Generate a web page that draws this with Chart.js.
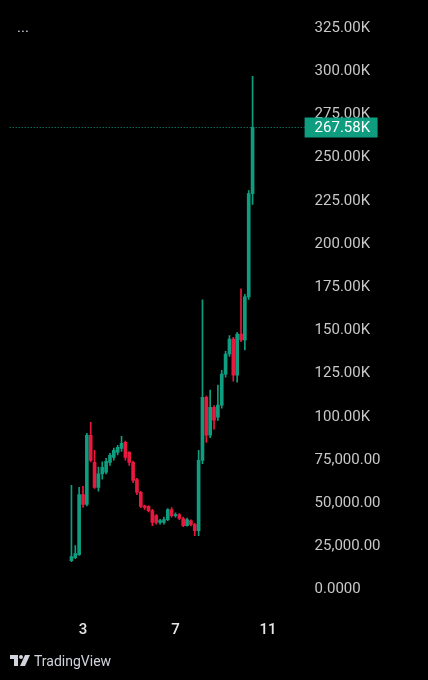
<!DOCTYPE html>
<html>
<head>
<meta charset="utf-8">
<script src="https://cdn.jsdelivr.net/npm/chart.js@4.4.1/dist/chart.umd.min.js"></script>
<style>
  html, body { margin: 0; padding: 0; background: #000; }
  #wrap { position: relative; width: 428px; height: 680px; overflow: hidden; }
  #dots { position: absolute; left: 17px; top: 18px; color: #d1d4dc; font: 15px Roboto, sans-serif; }
  #brand { position: absolute; left: 10px; top: 653px; display: flex; align-items: center; color: #d1d4dc; font: 14px Roboto, sans-serif; }
  #brand svg { margin-right: 4px; }
</style>
</head>
<body>
<div id="wrap">
  <canvas id="candleChart" width="428" height="680"></canvas>
  <div id="dots">...</div>
  <div id="brand">
    <svg width="20" height="12" viewBox="0 0 20 12">
      <path d="M0 0h8v11h-4v-7h-4z" fill="#d1d4dc"/>
      <circle cx="11" cy="2" r="2" fill="#d1d4dc"/>
      <path d="M15 0h5l-5 11h-5z" fill="#d1d4dc"/>
    </svg>
    <span>TradingView</span>
  </div>
</div>
<script>
// 4h candles, values in thousands
const opens  = [16.8, 18.6, 20.3, 55.1, 49.3, 89.4, 73.7, 59.2, 67.0, 68.0, 73.7, 76.6,
                79.5, 81.8, 85.3, 79.5, 73.7, 63.8, 56.3, 48.5, 48.2, 45.8, 42.9, 38.9,
                38.9, 40.6, 46.4, 42.9, 43.5, 41.2, 37.1, 40.0, 37.7, 34.2, 74.9, 111.4,
                89.4, 105.6, 99.8, 106.8, 124.8, 136.4, 145.1, 124.2, 148.0, 144.5, 169.5, 229.2];
const highs  = [60.4, 25.5, 59.2, 59.8, 90.5, 96.9, 80.7, 71.0, 74.0, 76.0, 79.0, 82.0,
                83.5, 88.8, 86.0, 80.0, 74.5, 64.5, 57.0, 49.0, 48.5, 46.5, 43.5, 40.8,
                42.0, 47.0, 47.5, 44.5, 44.0, 42.0, 41.5, 40.5, 38.5, 80.7, 167.7, 112.0,
                115.5, 106.5, 118.4, 127.0, 138.0, 147.0, 146.0, 149.0, 174.1, 171.0, 231.0, 297.1];
const lows   = [16.2, 18.0, 19.8, 47.6, 48.5, 74.0, 58.6, 57.0, 64.0, 67.0, 72.0, 75.0,
                78.0, 80.0, 75.0, 72.0, 62.0, 55.0, 47.5, 46.5, 45.0, 37.1, 38.0, 38.0,
                38.0, 40.0, 42.0, 42.0, 40.5, 36.5, 36.8, 37.0, 31.3, 31.3, 73.0, 85.3,
                88.0, 92.9, 98.0, 105.0, 123.0, 135.0, 120.7, 120.1, 143.5, 138.7, 168.0, 222.9];
const closes = [19.2, 20.9, 55.1, 49.3, 89.4, 74.9, 59.2, 67.0, 70.8, 74.3, 77.8, 80.7,
                82.4, 84.7, 76.6, 73.7, 63.3, 56.3, 48.2, 47.6, 45.8, 38.9, 38.9, 40.0,
                40.6, 46.4, 42.9, 43.5, 41.2, 37.1, 40.6, 37.7, 34.2, 74.9, 111.4, 89.4,
                105.6, 98.1, 106.8, 124.8, 136.4, 145.1, 124.2, 148.0, 144.5, 169.5, 229.2, 267.58];

const firstCandle = '2 12:00';
const days = 13;
const hours = ['00:00', '04:00', '08:00', '12:00', '16:00', '20:00'];
const slotCount = 76;

const xTickLabels = ['3', '7', '11'];
const yTicks = [0, 25, 50, 75, 100, 125, 150, 175, 200, 225, 250, 275, 300, 325];
const yTickLabels = ['0.0000', '25,000.00', '50,000.00', '75,000.00', '100.00K', '125.00K',
                     '150.00K', '175.00K', '200.00K', '225.00K', '250.00K', '275.00K',
                     '300.00K', '325.00K'];
const lastPrice = 267.58;
const lastPriceLabel = '267.58K';

const upColor = '#0f9d80';
const downColor = '#e8193f';

// all time slots on the axis
const slots = [];
for (let d = 0; d < days; d++) {
  for (const h of hours) slots.push(d + ' ' + h);
}
const categories = slots.slice(0, slotCount);
const start = categories.indexOf(firstCandle);
const candleTimes = categories.slice(start, start + opens.length);
const colors = opens.map((o, i) => closes[i] >= o ? upColor : downColor);

const priceLine = {
  id: 'priceLine',
  afterDraw(chart) {
    const { ctx, chartArea, scales } = chart;
    const y = Math.round(scales.y.getPixelForValue(lastPrice)) + 0.5;
    ctx.save();
    ctx.strokeStyle = upColor;
    ctx.lineWidth = 1;
    ctx.setLineDash([1, 2]);
    ctx.beginPath();
    ctx.moveTo(chartArea.left - 2, y);
    ctx.lineTo(chartArea.right, y);
    ctx.stroke();
    ctx.setLineDash([]);
    ctx.fillStyle = upColor;
    ctx.fillRect(chartArea.right, y - 10, 73, 20);
    ctx.fillStyle = '#ffffff';
    ctx.font = '15px Roboto, sans-serif';
    ctx.textBaseline = 'middle';
    ctx.fillText(lastPriceLabel, chartArea.right + 10, y + 1);
    ctx.restore();
  }
};

new Chart(document.getElementById('candleChart'), {
  type: 'bar',
  data: {
    labels: categories,
    datasets: [
      {
        label: 'wick',
        data: candleTimes.map((t, i) => ({ x: t, y: [lows[i], highs[i]] })),
        backgroundColor: colors,
        barThickness: 1,
        grouped: false,
        order: 2
      },
      {
        label: 'body',
        data: candleTimes.map((t, i) => ({ x: t, y: [opens[i], closes[i]] })),
        backgroundColor: colors,
        barThickness: 3,
        minBarLength: 1,
        grouped: false,
        order: 1
      }
    ]
  },
  options: {
    responsive: false,
    animation: false,
    layout: { padding: { left: 11.7, right: 0, top: 0, bottom: 0 } },
    plugins: { legend: { display: false }, tooltip: { enabled: false } },
    scales: {
      x: {
        type: 'category',
        offset: true,
        grid: { display: false, drawTicks: false },
        border: { display: false },
        afterBuildTicks(scale) {
          scale.ticks = xTickLabels.map(d => ({ value: categories.indexOf(d + ' 00:00') }));
        },
        afterFit(scale) { scale.height = 70; },
        ticks: {
          autoSkip: false,
          maxRotation: 0,
          padding: 11,
          color: '#e6e6e6',
          font: { family: 'Roboto', size: 15, weight: '500' },
          callback: (v) => categories[v].split(' ')[0]
        }
      },
      y: {
        position: 'right',
        min: -11.72,
        max: 330.25,
        grid: { display: false, drawTicks: false },
        border: { display: false },
        afterBuildTicks(scale) {
          scale.ticks = yTicks.map(v => ({ value: v }));
        },
        afterFit(scale) { scale.width = 123.4; },
        ticks: {
          padding: 10,
          color: '#c8c8c8',
          font: { family: 'Roboto', size: 15 },
          callback: (v) => yTickLabels[yTicks.indexOf(v)]
        }
      }
    }
  },
  plugins: [priceLine]
});
</script>
</body>
</html>
